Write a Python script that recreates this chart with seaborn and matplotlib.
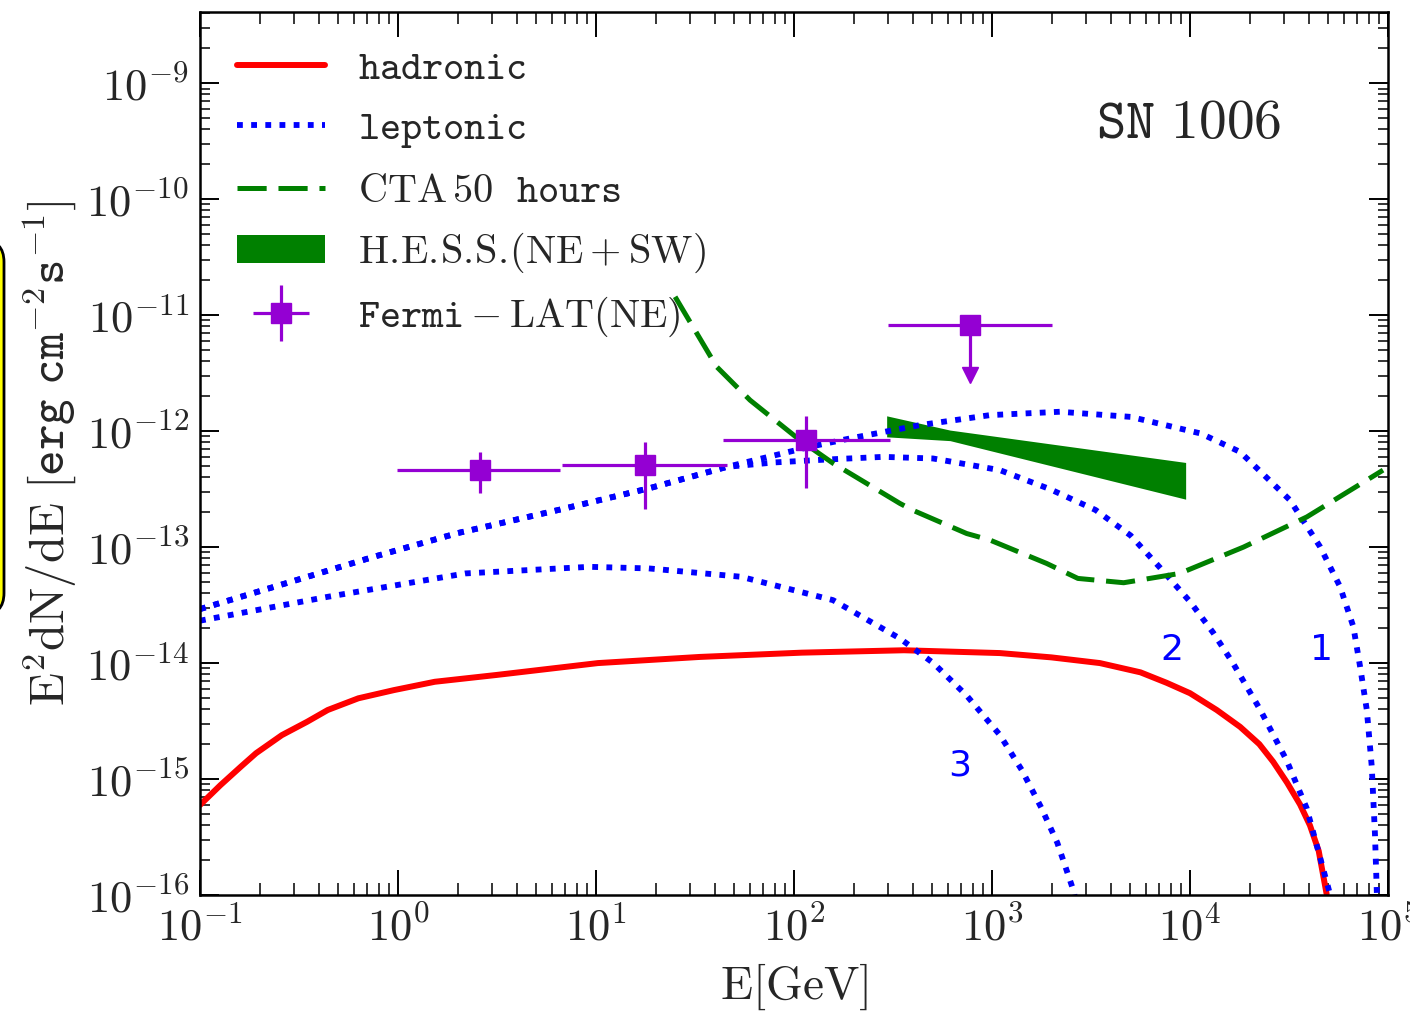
import numpy as np
import matplotlib
matplotlib.use("Agg")
import matplotlib.pyplot as plt
import seaborn as sns
from matplotlib.ticker import LogLocator, FuncFormatter, NullFormatter
from matplotlib.patches import FancyBboxPatch, Patch
from matplotlib.transforms import IdentityTransform
from matplotlib.legend_handler import HandlerErrorbar

# 数据 (E in GeV, E^2 dN/dE in erg cm^-2 s^-1)
had_E = [0.1, 0.127, 0.161, 0.192, 0.259, 0.348, 0.442, 0.631, 0.955, 1.535, 3.126, 10.23, 33.5,
         109.6, 359.7, 1096, 1995, 3508, 5623, 7621, 10000, 13650, 17910, 22390, 26300, 30900,
         35970, 40360, 44670, 48980]
had_F = [5.97e-16, 8.87e-16, 1.28e-15, 1.67e-15, 2.39e-15, 3.12e-15, 3.94e-15, 4.97e-15, 5.85e-15,
         6.90e-15, 7.89e-15, 1.0e-14, 1.13e-14, 1.23e-14, 1.29e-14, 1.22e-14, 1.12e-14, 1.0e-14,
         8.32e-15, 6.76e-15, 5.50e-15, 3.94e-15, 2.82e-15, 2.0e-15, 1.41e-15, 9.33e-16, 6.03e-16,
         3.98e-16, 2.40e-16, 1.02e-16]

lep1_E = [0.1, 0.316, 0.753, 2.0, 6.38, 18.5, 45.9, 120.5, 191.9, 432.5, 977, 2203, 5012, 11320,
          17910, 31990, 45390, 57280, 66830, 72280, 78160, 82790, 85900, 88100]
lep1_F = [2.92e-14, 5.27e-14, 8.24e-14, 1.32e-13, 2.08e-13, 3.21e-13, 4.92e-13, 7.33e-13, 8.65e-13,
          1.127e-12, 1.374e-12, 1.469e-12, 1.327e-12, 9.55e-13, 6.62e-13, 2.54e-13, 1.007e-13,
          4.55e-14, 2.06e-14, 9.33e-15, 3.94e-15, 1.28e-15, 3.40e-16, 8.9e-17]

lep2_E = [0.1, 0.316, 0.753, 2.0, 6.38, 18.5, 45.9, 79.4, 146.2, 282.5, 503.5, 1096, 1963, 3334,
          5012, 7079, 10000, 13120, 16480, 22590, 30760, 38820, 50930, 52480]
lep2_F = [2.92e-14, 5.27e-14, 8.24e-14, 1.32e-13, 2.08e-13, 3.21e-13, 4.92e-13, 5.37e-13, 5.69e-13,
          6.0e-13, 5.81e-13, 4.61e-13, 3.16e-13, 2.09e-13, 1.26e-13, 6.61e-14, 3.39e-14, 1.82e-14,
          1.0e-14, 3.98e-15, 1.45e-15, 5.62e-16, 1.02e-16, 7.9e-17]

lep3_E = [0.1, 0.443, 2.19, 9.27, 18.5, 54.0, 157.4, 342.8, 505.8, 744.7, 1096, 1413, 1778, 2138,
          2576, 2692]
lep3_F = [2.32e-14, 3.73e-14, 5.93e-14, 6.76e-14, 6.55e-14, 5.55e-14, 3.49e-14, 1.63e-14, 1.0e-14,
          5.25e-15, 2.40e-15, 1.20e-15, 5.62e-16, 2.82e-16, 1.10e-16, 7.9e-17]

cta_E = [25.1, 40.7, 60.0, 107.2, 158.1, 191.9, 342.8, 398.1, 744.7, 977, 1888, 2716, 4624, 8872,
         18620, 38900, 94400]
cta_F = [1.44e-11, 3.59e-12, 1.85e-12, 8.36e-13, 5.26e-13, 4.32e-13, 2.38e-13, 2.08e-13, 1.31e-13,
         1.15e-13, 7.23e-14, 5.37e-14, 4.93e-14, 5.93e-14, 1.0e-13, 1.82e-13, 4.61e-13]

hess_E = [293.8, 613.8, 9506]
hess_hi = [1.355e-12, 1.021e-12, 5.37e-13]
hess_lo = [8.93e-13, 8.28e-13, 2.59e-13]

fermi_E = [2.59, 17.6, 115.1]
fermi_F = [4.61e-13, 5.09e-13, 8.36e-13]
fermi_Elo = [0.984, 6.73, 43.6]
fermi_Ehi = [6.55, 45.9, 305.5]
fermi_Flo = [2.90e-13, 2.15e-13, 3.21e-13]
fermi_Fhi = [6.64e-13, 8.09e-13, 1.346e-12]

ul_E = 775.0
ul_F = 8.2e-12
ul_Elo, ul_Ehi = 298.5, 2009.0
ul_tip = 3.04e-12

curve_names = ["1", "2", "3"]
curve_name_pos = [(45900, 1.29e-14), (8110, 1.29e-14), (689, 1.32e-15)]

# 画图
sns.set_style("ticks")
plt.rcParams["mathtext.fontset"] = "cm"
plt.rcParams["font.family"] = ["DejaVu Sans"]
plt.rcParams["axes.linewidth"] = 1.8
plt.rcParams["lines.scale_dashes"] = False

fig = plt.figure(figsize=(14.1, 10.11), dpi=100)
ax = fig.add_axes([0.1418, 0.1147, 0.8426, 0.8733])
ax.set_xscale("log")
ax.set_yscale("log")

purple = "#9400D3"
green = "#008000"
blue = "#0000FF"

sns.lineplot(x=had_E, y=had_F, ax=ax, color="#FF0000", estimator=None, sort=False)
for E, F in [(lep1_E, lep1_F), (lep2_E, lep2_F), (lep3_E, lep3_F)]:
    sns.lineplot(x=E, y=F, ax=ax, color=blue, estimator=None, sort=False)
sns.lineplot(x=cta_E, y=cta_F, ax=ax, color=green, estimator=None, sort=False)
lines = list(ax.lines)
# 线型
lines[0].set_linewidth(4.3)
lines[0].set_linestyle("-")
for ln in lines[1:4]:
    ln.set_linewidth(4.2)
    ln.set_linestyle((0, (4.2, 6.0)))
lines[4].set_linewidth(3.6)
lines[4].set_linestyle((0, (21, 8.5)))

ax.fill_between(hess_E, hess_lo, hess_hi, color=green, linewidth=0)

xerr = [np.subtract(fermi_E, fermi_Elo), np.subtract(fermi_Ehi, fermi_E)]
yerr = [np.subtract(fermi_F, fermi_Flo), np.subtract(fermi_Fhi, fermi_F)]
eb = ax.errorbar(fermi_E, fermi_F, xerr=xerr, yerr=yerr, fmt="s", color=purple,
                 markersize=15, elinewidth=2.3, capsize=0)
ax.errorbar([ul_E], [ul_F], xerr=[[ul_E - ul_Elo], [ul_Ehi - ul_E]], fmt="s", color=purple,
            markersize=15, elinewidth=2.3, capsize=0)
ax.plot([ul_E, ul_E], [ul_F, ul_tip], color=purple, linewidth=2.3)
ax.plot([ul_E], [ul_tip], marker="v", color=purple, markersize=12, linestyle="none")

for name, (xe, yf) in zip(curve_names, curve_name_pos):
    ax.text(xe, yf, name, color=blue, fontsize=26, ha="center", va="center")
ax.text(0.832, 0.874, r"$\mathtt{SN\ 1006}$", transform=ax.transAxes, fontsize=40,
        ha="center", va="center")

ax.set_xlim(0.1, 1e5)
ax.set_ylim(1e-16, 4.1e-9)

fmt = FuncFormatter(lambda v, p: r"$\mathrm{10^{%d}}$" % int(round(np.log10(v))))
for axis in (ax.xaxis, ax.yaxis):
    axis.set_major_locator(LogLocator(base=10, numticks=30))
    axis.set_minor_locator(LogLocator(base=10, subs=np.arange(2, 10), numticks=300))
    axis.set_major_formatter(fmt)
    axis.set_minor_formatter(NullFormatter())
ax.tick_params(which="both", direction="in", top=True, right=True, labelsize=32, color="black")
ax.tick_params(axis="x", which="major", length=18, width=1.4, pad=8)
ax.tick_params(axis="x", which="minor", length=8.5, width=1.1)
ax.tick_params(axis="y", which="major", length=14, width=1.4, pad=8)
ax.tick_params(axis="y", which="minor", length=7, width=1.1)
for s in ax.spines.values():
    s.set_color("black")

ax.set_xlabel(r"$\mathrm{E}[\mathrm{GeV}]$", fontsize=34, labelpad=9)
ax.set_ylabel(r"$\mathrm{E^2dN/dE}\ [\mathtt{erg\ cm^{-2}s^{-1}}]$", fontsize=35, labelpad=6)

handles = [lines[0], lines[1], lines[4], Patch(facecolor=green, edgecolor="none"), eb]
labels = [r"$\mathtt{hadronic}$", r"$\mathtt{leptonic}$", r"$\mathrm{CTA\,50}\ \ \mathtt{hours}$",
          r"$\mathrm{H.\!E.\!S.\!S.\!(NE+SW)}$", r"$\mathtt{Fermi}-\mathrm{LAT(NE)}$"]
ax.legend(handles, labels, loc="upper left", bbox_to_anchor=(0.031, 0.959), frameon=False,
          fontsize=29, handlelength=2.2, handletextpad=0.8, borderaxespad=0, borderpad=0,
          labelspacing=0.5, handler_map={type(eb): HandlerErrorbar(xerr_size=0.7, yerr_size=0.7)})

# 左边的黄色框 (cut off in the original)
box = FancyBboxPatch((-40, 396), 44, 375, boxstyle="round,pad=0,rounding_size=22",
                     facecolor="#FFFF00", edgecolor="black", linewidth=2,
                     transform=IdentityTransform())
fig.add_artist(box)

fig.savefig("out.png", dpi=100)
